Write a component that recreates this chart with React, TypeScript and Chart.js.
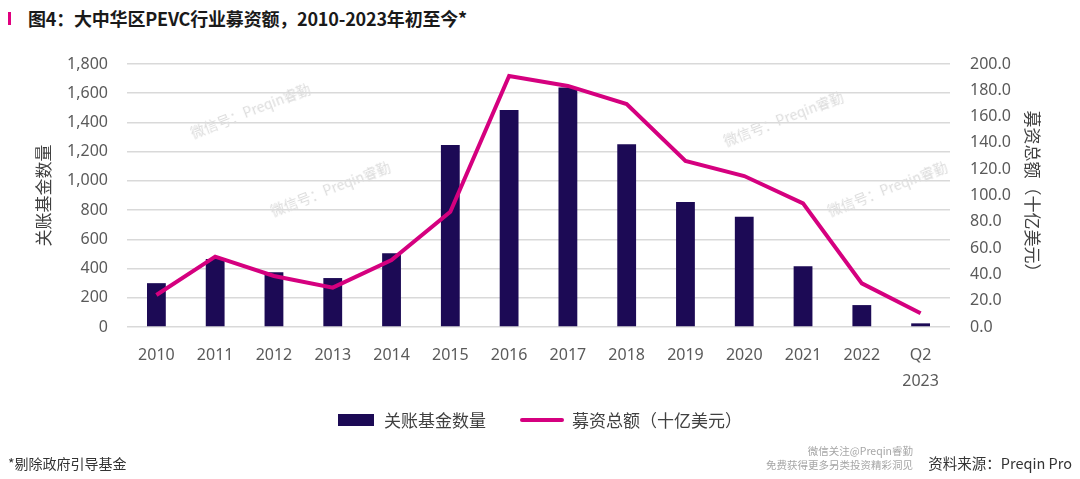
import React, { useEffect, useRef } from "react";
import { Chart, registerables } from "chart.js";

Chart.register(...registerables);

const categories: (string | string[])[] = ["2010", "2011", "2012", "2013", "2014", "2015", "2016", "2017", "2018", "2019", "2020", "2021", "2022", ["Q2", "2023"]];
const closedFunds = [300, 465, 375, 335, 505, 1245, 1485, 1640, 1250, 855, 755, 415, 150, 25];
const capitalRaised = [24.3, 53.5, 38.8, 29.9, 51.0, 87.7, 190.9, 183.3, 169.6, 126.2, 114.8, 94.0, 33.2, 10.4];
const leftTicks = [0, 200, 400, 600, 800, 1000, 1200, 1400, 1600, 1800];
const rightTicks = [0, 20, 40, 60, 80, 100, 120, 140, 160, 180, 200];

const BAR_COLOR = "#1c0a55";
const LINE_COLOR = "#d5007f";
const TICK_COLOR = "#5a5a5a";
const FONT = "'Noto Sans', 'Noto Sans CJK SC', sans-serif";

const watermarks = [
  { x: 250, y: 110 },
  { x: 330, y: 188 },
  { x: 783, y: 118 },
  { x: 887, y: 188 },
];

export default function App() {
  const ref = useRef<HTMLCanvasElement | null>(null);

  useEffect(() => {
    document.body.style.margin = "0";
    const ctx = ref.current!.getContext("2d")!;
    const chart = new Chart(ctx, {
      type: "bar",
      data: {
        labels: categories as any,
        datasets: [
          {
            type: "line",
            label: "募资总额（十亿美元）",
            data: capitalRaised,
            yAxisID: "y1",
            borderColor: LINE_COLOR,
            backgroundColor: LINE_COLOR,
            borderWidth: 4,
            pointRadius: 0,
            tension: 0,
            order: 0,
          } as any,
          {
            type: "bar",
            label: "关账基金数量",
            data: closedFunds,
            yAxisID: "y",
            backgroundColor: BAR_COLOR,
            borderWidth: 0,
            barPercentage: 0.32,
            categoryPercentage: 1,
            order: 1,
          },
        ],
      },
      options: {
        animation: false,
        responsive: false,
        maintainAspectRatio: false,
        devicePixelRatio: 1,
        layout: { padding: { top: 64, left: 0, right: 0, bottom: 0 } },
        plugins: { legend: { display: false }, tooltip: { enabled: false } },
        scales: {
          x: {
            grid: { display: false, drawTicks: false },
            border: { display: false },
            ticks: {
              color: TICK_COLOR,
              font: { family: FONT, size: 16, lineHeight: 1.6 },
              padding: 16,
              maxRotation: 0,
              autoSkip: false,
            },
            afterFit: (s: any) => {
              s.height = 152;
            },
          },
          y: {
            position: "left",
            min: 0,
            max: 1800,
            afterBuildTicks: (s: any) => {
              s.ticks = leftTicks.map((v) => ({ value: v }));
            },
            grid: { color: "#d9d9d9", lineWidth: 1.5, drawTicks: false },
            border: { display: false },
            ticks: {
              color: TICK_COLOR,
              font: { family: FONT, size: 16 },
              padding: 19,
              callback: (v: any) => Number(v).toLocaleString("en-US"),
            },
            title: {
              display: true,
              text: "关账基金数量",
              color: "#404040",
              font: { family: FONT, size: 17 },
              padding: { top: 35, bottom: 0 },
            },
            afterFit: (s: any) => {
              s.width = 127;
            },
          },
          y1: {
            position: "right",
            min: 0,
            max: 200,
            afterBuildTicks: (s: any) => {
              s.ticks = rightTicks.map((v) => ({ value: v }));
            },
            grid: { display: false, drawTicks: false },
            border: { display: false },
            ticks: {
              color: TICK_COLOR,
              font: { family: FONT, size: 16 },
              padding: 20,
              callback: (v: any) => Number(v).toFixed(1),
            },
            title: {
              display: true,
              text: "募资总额（十亿美元）",
              color: "#404040",
              font: { family: FONT, size: 17 },
              padding: { top: 39, bottom: 0 },
            },
            afterFit: (s: any) => {
              s.width = 130;
            },
          },
        },
      },
    });
    return () => chart.destroy();
  }, []);

  return (
    <div style={{ position: "absolute", left: 0, top: 0, width: 1080, height: 479, background: "#fff", overflow: "hidden", fontFamily: FONT }}>
      <div style={{ position: "absolute", left: 8, top: 12, width: 2.5, height: 13, background: "#e0007f" }} />
      <div style={{ position: "absolute", left: 28, top: 5, fontSize: 18, fontWeight: 700, color: "#1a1a1a", fontFamily: "'Noto Sans CJK SC', sans-serif", whiteSpace: "nowrap", lineHeight: "26px", letterSpacing: "-0.2px" }}>
        图4：大中华区PEVC行业募资额，2010-2023年初至今*
      </div>
      <canvas ref={ref} width={1080} height={479} style={{ position: "absolute", left: 0, top: 0, width: 1080, height: 479 }} />
      {watermarks.map((w, i) => (
        <div key={i} style={{ position: "absolute", left: w.x - 70, top: w.y - 10, width: 140, textAlign: "center", fontSize: 14, color: "#dcdcdc", transform: "rotate(-21deg)", whiteSpace: "nowrap", lineHeight: "20px", fontFamily: "'Noto Sans CJK SC', sans-serif" }}>
          微信号：Preqin睿勤
        </div>
      ))}
      <div style={{ position: "absolute", left: 338, top: 408, display: "flex", alignItems: "center", fontSize: 17, color: "#404040", fontFamily: "'Noto Sans CJK SC', sans-serif", lineHeight: "24px", whiteSpace: "nowrap" }}>
        <span style={{ display: "inline-block", width: 36, height: 12, background: BAR_COLOR, marginRight: 10 }} />
        <span>关账基金数量</span>
        <span style={{ display: "inline-block", width: 44, height: 4, borderRadius: 2, background: LINE_COLOR, marginLeft: 34, marginRight: 8 }} />
        <span>募资总额（十亿美元）</span>
      </div>
      <div style={{ position: "absolute", left: 8, top: 452, fontSize: 14, color: "#333", fontFamily: "'Noto Sans CJK SC', sans-serif", lineHeight: "22px", whiteSpace: "nowrap" }}>
        *剔除政府引导基金
      </div>
      <div style={{ position: "absolute", right: 167, top: 444, fontSize: 10.5, color: "#a6a6a6", fontFamily: "'Noto Sans CJK SC', sans-serif", lineHeight: "14px", textAlign: "right", whiteSpace: "nowrap" }}>
        <div>微信关注@Preqin睿勤</div>
        <div>免费获得更多另类投资精彩洞见</div>
      </div>
      <div style={{ position: "absolute", right: 8, top: 452, fontSize: 14.5, color: "#333", fontFamily: "'Noto Sans CJK SC', sans-serif", lineHeight: "22px", whiteSpace: "nowrap" }}>
        资料来源：Preqin Pro
      </div>
    </div>
  );
}
